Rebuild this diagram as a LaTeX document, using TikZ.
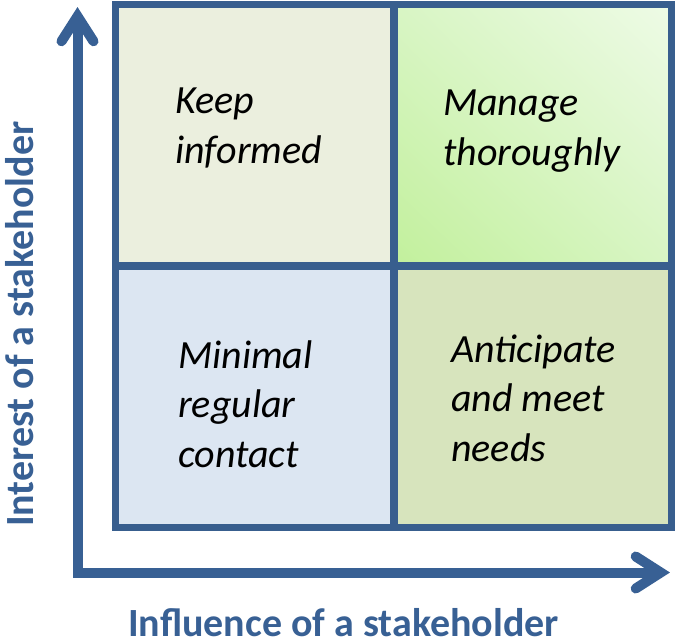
\documentclass[tikz,border=0pt]{standalone}
\usepackage{fontspec}
\setmainfont{Carlito}
\usetikzlibrary{shadings}
\definecolor{bordc}{RGB}{56,94,142}
\definecolor{axisc}{RGB}{56,96,148}
\definecolor{tlfill}{HTML}{EBEFDE}
\definecolor{blfill}{HTML}{DCE6F2}
\definecolor{brfill}{HTML}{D7E4BD}
\definecolor{trdark}{HTML}{C2F09C}
\definecolor{trmid}{HTML}{D8F5C4}
\definecolor{trlight}{HTML}{EEFBE6}
\tikzset{
  gridline/.style={draw=bordc, line width=7.5pt},
  axisline/.style={draw=axisc, line width=10pt, line join=miter},
  chev/.style={draw=axisc, line width=10pt, line cap=round, line join=miter, miter limit=10},
  quad/.style={anchor=base west, inner sep=0pt, align=left, font=\fontsize{40}{49.5}\selectfont\itshape},
  axlabel/.style={anchor=base west, inner sep=0pt, text depth=0pt, text=axisc, font=\fontsize{40}{48}\selectfont\bfseries}
}
\begin{document}
\begin{tikzpicture}[x=1pt,y=-1pt]
\useasboundingbox (0,0) rectangle (675,643);
% cells
\fill[tlfill] (115.5,4.5) rectangle (394,266);
\shade[lower left=trdark, upper right=trlight, upper left=trmid, lower right=trmid] (394,4.5) rectangle (671.5,266);
\fill[blfill] (115.5,266) rectangle (394,527.5);
\fill[brfill] (394,266) rectangle (671.5,527.5);
% grid lines
\draw[gridline] (115.5,4.5) rectangle (671.5,527.5);
\draw[gridline] (394,4.5) -- (394,527.5);
\draw[gridline] (115.5,266) -- (671.5,266);
% axes
\coordinate (origin) at (77.5,572.5);
\coordinate (ytip) at (77.5,16.3);
\coordinate (xtip) at (660.7,572.5);
\draw[axisline] (ytip) -- (origin) -- (xtip);
\draw[chev] ([shift={(-16,25)}]ytip) -- (ytip) -- ([shift={(16,25)}]ytip);
\draw[chev] ([shift={(-25,-16)}]xtip) -- (xtip) -- ([shift={(-25,16)}]xtip);
% texts (base anchor = baseline of last line)
\node[quad] (keep) at (175,163) {Keep\\informed};
\node[quad] (manage) at (443,165) {Manage\\thoroughly};
\node[quad] (minimal) at (178,467) {Minimal\\regular\\contact};
\node[quad] (anticipate) at (451,461) {Anticipate\\and meet\\needs};
\node[axlabel] (xlabel) at (128,636) {Influence of a stakeholder};
\node[axlabel, rotate=90] (ylabel) at (33,527) {Interest of a stakeholder};
\end{tikzpicture}
\end{document}
